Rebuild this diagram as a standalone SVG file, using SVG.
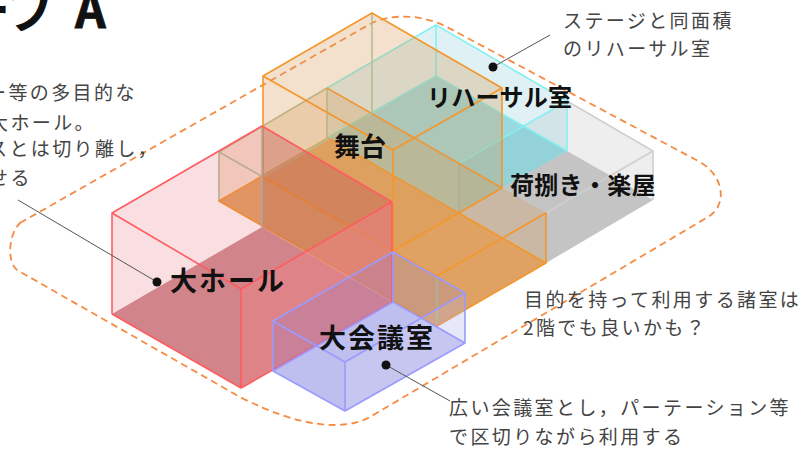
<svg xmlns="http://www.w3.org/2000/svg" width="803" height="449" viewBox="0 0 803 449">
<style>
text{font-family:"Noto Sans CJK JP","Noto Sans",sans-serif}
.n{font-size:19px;letter-spacing:2.4px;fill:#444}
.b{font-weight:700;fill:#111}
.l{fill:none;stroke-linejoin:round;stroke-width:1.6}
.lead{fill:none;stroke:#555;stroke-width:1}
polygon{stroke:none}
</style>
<rect width="803" height="449" fill="#fff"/>
<g id="site-outline"><path d="M20 223L372 23C392 14 420 14 445 26L700 162C724 176 728 205 708 217L370 417C345 431 300 428 240 397L17 270C7 262 8 235 20 223Z" fill="none" stroke="#f58c45" stroke-width="1.8" stroke-dasharray="7 4.5"/></g>
<g id="grey-box">
<polygon fill="#8a8a8a" fill-opacity=".14" points="567,101 653,151 653,200 546,263 458,213 458,164"/>
<polygon fill="#a8a8a8" fill-opacity=".6" points="567,151 653,200 546,263 458,213"/>
<path class="l" stroke="#cfcfcf" d="M567 101L653 151L546 213M653 151V200M459 164V213"/>
</g>
<g id="rehearsal-box">
<polygon fill="#7fc8d4" fill-opacity=".25" points="436,25 567,101 567,151 458,213 327,138 327,88"/>
<polygon fill="#48bcc8" fill-opacity=".45" points="436,76 567,151 458,213 327,138"/>
<path class="l" stroke="#85f0f0" d="M327 88L436 25L567 101L458 164M436 25V76M567 101V151M436 76L327 138M436 76L567 151"/>
</g>
<g id="low-orange-box">
<polygon fill="#d89a5a" fill-opacity=".3" points="219,152 327,88 546,213 546,263 437,326 219,201"/>
<polygon fill="#d47a20" fill-opacity=".62" points="219,201 328,138 546,263 437,326"/>
<path class="l" stroke="#b4bf94" d="M219 152L327 88V138M219 152V201M219 152L263 177M437 276V326"/>
<path class="l" stroke="#f5962a" d="M327 88L502 188M263 177L437 276L546 213V263L437 326L219 201L328 138M328 138L546 263"/>
</g>
<g id="stage-box">
<polygon fill="#d89a5a" fill-opacity=".3" points="263,76 372,13 502,88 502,188 393,251 263,177"/>
<path class="l" stroke="#b4bf94" d="M372 13V113M263 177L372 113"/>
<path class="l" stroke="#f5962a" d="M263 177V76L372 13L502 88L393 150L263 76M502 88V188L393 251V150M263 177L393 251"/>
</g>
<g id="hall-box">
<polygon fill="#e8606c" fill-opacity=".2" points="112,213 262,126 392,202 392,302 241,388 112,314"/>
<polygon fill="#a85848" fill-opacity=".22" points="262,126 392,202 392,302 262,227"/>
<polygon fill="#a82a30" fill-opacity=".5" points="112,314 262,227 392,302 241,388"/>
<polygon fill="#ec8488" fill-opacity=".5" points="241,289 392,202 392,302 241,388"/>
<path class="l" stroke="#a8a8b0" d="M262 126V227"/>
<path class="l" stroke="#ff5c60" d="M112 314V213L262 126L392 202L241 289L112 213M241 289V388L392 302V202M241 388L112 314"/>
</g>
<g id="meeting-box">
<polygon fill="#7a7ae8" fill-opacity=".2" points="273,321 393,252 465,293 465,343 345,411 273,371"/>
<polygon fill="#6a6ad8" fill-opacity=".3" points="273,371 393,302 465,343 345,411"/>
<polygon fill="#ffffff" fill-opacity=".12" points="345,362 465,293 465,343 345,411"/>
<path class="l" stroke="#9a9aff" d="M273 321L393 252L465 293L345 362L273 321V371L345 411L465 343V293M345 362V411M393 252V302M273 371L393 302L465 343"/>
</g>
<g id="connectors">
<path class="lead" d="M18 200L157 282M493 67L550 35M386 365L450 401"/>
<circle cx="157" cy="282" r="4.5" fill="#111"/>
<circle cx="493" cy="67" r="4.5" fill="#111"/>
<circle cx="386" cy="365" r="4.5" fill="#111"/>
</g>
<g id="title"><text class="b" x="-38" y="28" font-size="48">ープ</text><text class="b" x="75" y="28" font-size="48" stroke="#111" stroke-width=".8">A</text></g>
<g id="note-hall">
<text class="n" x="-13" y="100">ー等の多目的な</text>
<text class="n" x="-11" y="130">大ホール。</text>
<text class="n" x="-12" y="156">スとは切り離し，</text>
<text class="n" x="-11" y="185">せる</text>
</g>
<g id="note-rehearsal">
<text class="n" x="563" y="28">ステージと同面積</text>
<text class="n" x="563" y="56">のリハーサル室</text>
</g>
<g id="note-rooms">
<text class="n" x="524" y="307">目的を持って利用する諸室は</text>
<text class="n" x="523" y="335">2階でも良いかも？</text>
</g>
<g id="note-meeting">
<text class="n" x="449" y="415">広い会議室とし，パーテーション等</text>
<text class="n" x="449" y="444">で区切りながら利用する</text>
</g>
<g id="labels">
<text class="b" x="170" y="291" font-size="27" letter-spacing="2">大ホール</text>
<text class="b" x="319" y="348" font-size="27" letter-spacing="2">大会議室</text>
<text class="b" x="334" y="156" font-size="26">舞台</text>
<text class="b" x="427" y="106" font-size="24" letter-spacing=".3">リハーサル室</text>
<text class="b" x="510" y="194" font-size="24" letter-spacing=".3">荷捌き・楽屋</text>
</g>
</svg>
